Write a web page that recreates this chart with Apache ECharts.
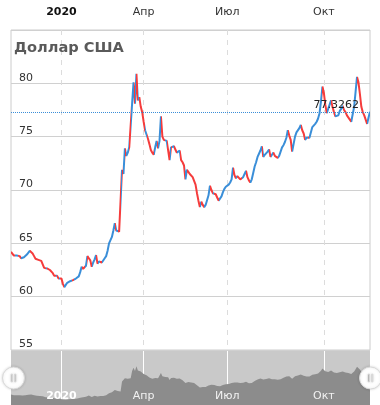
<!DOCTYPE html>
<html>
<head>
<meta charset="utf-8">
<script src="https://cdn.jsdelivr.net/npm/echarts@6/dist/echarts.min.js"></script>
<style>html,body{margin:0;padding:0;background:#fff}#c{width:380px;height:405px}</style>
</head>
<body>
<div id="c"></div>
<script>
// USD/RUB, one point per trading day
const values = [
  64.2, 64.05, 63.85, 63.75, 63.85, 63.95, 63.8, 63.6, 63.65, 63.7,
  63.8, 63.95, 64.1, 64.3, 64.15, 64.05, 63.8, 63.55, 63.5, 63.45,
  63.4, 63.35, 63.25, 62.7, 62.6, 62.65, 62.55, 62.5, 62.4, 62.2,
  61.95, 61.9, 61.95, 61.7, 61.75, 61.7, 61.2, 60.9, 61.1, 61.3,
  61.4, 61.45, 61.6, 61.55, 61.5, 61.7, 61.85, 61.9, 62.3, 62.8,
  62.6, 62.5, 62.9, 63.8, 63.6, 63.4, 62.8, 63.2, 63.5, 63.9,
  63.1, 63.3, 63.4, 63.2, 63.3, 63.6, 63.8, 64.3, 65.0, 65.3,
  65.6, 66.2, 66.9, 66.2, 66.3, 66.1, 66.0, 71.9, 71.5, 73.9,
  73.2, 73.5, 74.0, 73.9, 78.1, 80.1, 78.1, 80.9, 78.4, 78.7,
  77.8, 77.3, 76.4, 75.6, 75.7, 74.8, 74.3, 73.75, 73.5, 73.3,
  74.0, 74.6, 73.9, 74.6, 76.9, 75.0, 74.7, 74.6, 74.6, 74.5,
  72.8, 74.0, 73.9, 74.1, 73.8, 73.5, 73.6, 73.7, 72.8, 72.6,
  72.3, 71.0, 71.9, 71.7, 71.5, 71.4, 71.2, 71.1, 70.5, 69.7,
  69.0, 68.4, 68.9, 68.6, 68.4, 68.6, 68.7, 69.5, 70.4, 70.0,
  69.7, 69.8, 69.6, 69.3, 69.0, 69.1, 69.4, 69.8, 70.1, 70.3,
  70.4, 70.5, 70.7, 71.0, 72.1, 71.4, 71.1, 71.3, 71.2, 71.0,
  70.9, 71.2, 71.5, 71.8, 71.2, 70.9, 70.7, 71.0, 71.6, 72.2,
  72.6, 73.1, 73.4, 73.7, 74.1, 73.1, 73.3, 73.4, 73.6, 73.8,
  73.1, 73.3, 73.5, 73.2, 73.1, 73.0, 73.2, 73.3, 74.0, 74.2,
  74.5, 74.9, 75.6, 75.1, 74.7, 73.6, 74.3, 75.0, 75.4, 75.5,
  75.8, 76.1, 75.6, 75.3, 74.7, 74.9, 75.0, 74.9, 74.9, 75.9,
  76.0, 76.2, 76.4, 76.7, 77.2, 78.3, 79.7, 79.1, 78.0, 77.2,
  77.6, 78.0, 78.4, 77.8, 77.3, 76.9, 77.0, 77.0, 77.4, 77.6,
  77.9, 77.5, 77.3, 77.0, 76.9, 76.6, 76.4, 76.4, 77.8, 79.2,
  80.6, 80.1, 79.0, 77.8, 77.3, 77.0, 76.6, 76.2, 76.8, 77.3262
];
// trading-day ordinal categories
const categories = values.map((v, i) => String(i));
// first trading day of each quarter and its label
const tickIndex = [35, 92, 150, 217];
const tickLabels = ['2020', 'Апр', 'Июл', 'Окт'];
const yTicks = [55, 60, 65, 70, 75, 80];

const BLUE = '#3a8ed8';
const RED = '#f53c3c';
const lastValue = values[values.length - 1];

const pieces = [];
for (let i = 0; i < values.length - 1; i++) {
  const p = { gte: i, color: values[i + 1] >= values[i] ? BLUE : RED };
  if (i === values.length - 2) p.lte = i + 1; else p.lt = i + 1;
  pieces.push(p);
}
const isTick = (idx) => tickIndex.indexOf(idx) >= 0;
const labelFor = (value, idx) => {
  const k = tickIndex.indexOf(idx);
  if (k < 0) return '';
  return k === 0 ? '{y|' + tickLabels[k] + '}' : tickLabels[k];
};

const chart = echarts.init(document.getElementById('c'), null, { renderer: 'canvas' });
chart.setOption({
  animation: false,
  textStyle: { fontFamily: 'DejaVu Sans' },
  title: {
    text: 'Доллар США', left: 9, top: 36,
    textStyle: { fontSize: 14.6, fontWeight: 'bold', color: '#5a5a5a', fontFamily: 'DejaVu Sans' }
  },
  grid: [
    { left: 11, right: 10, top: 30, height: 320, show: true, borderColor: '#cccccc', borderWidth: 1, containLabel: false },
    { left: 11, right: 10, top: 351, height: 54, show: true, backgroundColor: '#c9c9c9', borderWidth: 0, containLabel: false }
  ],
  visualMap: {
    show: false, type: 'piecewise', seriesIndex: 0, dimension: 0, pieces: pieces
  },
  xAxis: [
    {
      type: 'category', gridIndex: 0, data: categories, boundaryGap: false, position: 'top',
      axisLine: { show: false }, axisTick: { show: false },
      axisLabel: {
        interval: (i) => isTick(i), formatter: labelFor, margin: 12,
        color: '#333', fontSize: 11,
        rich: { y: { fontWeight: 'bold', color: '#111', fontSize: 11 } }
      },
      splitLine: { show: true, interval: (i) => isTick(i), lineStyle: { color: '#dcdcdc', type: [5, 5] } }
    },
    {
      type: 'category', gridIndex: 1, data: categories, boundaryGap: false, position: 'bottom',
      axisLine: { show: false }, axisTick: { show: false }, axisLabel: { show: false },
      splitLine: { show: true, interval: (i) => isTick(i), lineStyle: { color: '#ffffff', width: 1 } }
    },
    {
      type: 'category', gridIndex: 1, data: categories, boundaryGap: false, position: 'bottom', z: 10,
      axisLine: { show: false }, axisTick: { show: false }, splitLine: { show: false },
      axisLabel: {
        inside: true, interval: (i) => isTick(i), formatter: labelFor, margin: 3,
        color: '#f2f2f2', fontSize: 11,
        rich: { y: { fontWeight: 'bold', color: '#ffffff', fontSize: 11 } }
      }
    }
  ],
  yAxis: [
    {
      type: 'value', gridIndex: 0, min: yTicks[0], max: 85, interval: 5,
      axisLine: { show: false }, axisTick: { show: false },
      axisLabel: { inside: true, margin: 8, verticalAlign: 'bottom', color: '#333', fontSize: 11, showMaxLabel: false },
      splitLine: { lineStyle: { color: '#d0d0d0' } }
    },
    {
      type: 'value', gridIndex: 1, min: 58, max: 90, show: false,
      splitLine: { show: false }
    }
  ],
  dataZoom: [{
    type: 'slider', xAxisIndex: [0, 1, 2], start: 0, end: 100,
    left: 11, right: 10, top: 351, height: 54,
    backgroundColor: 'rgba(0,0,0,0)', borderColor: 'rgba(0,0,0,0)', fillerColor: 'rgba(0,0,0,0)',
    showDataShadow: false, showDetail: false, brushSelect: false,
    moveHandleSize: 0, moveHandleStyle: { opacity: 0 },
    handleIcon: 'path://M10,0A10,10,0,1,1,-10,0A10,10,0,1,1,10,0Z M-2.2,-3.5L-2.2,3.5L-1,3.5L-1,-3.5Z M1,-3.5L1,3.5L2.2,3.5L2.2,-3.5Z',
    handleSize: 22,
    handleStyle: { color: '#ffffff', borderColor: '#d8d8d8', borderWidth: 1, shadowBlur: 3, shadowColor: 'rgba(0,0,0,0.15)' },
    emphasis: { handleStyle: { color: '#ffffff', borderColor: '#d8d8d8' } }
  }],
  series: [
    {
      type: 'line', xAxisIndex: 0, yAxisIndex: 0, data: values, symbol: 'none',
      lineStyle: { width: 2 },
      markLine: {
        silent: true, symbol: 'none',
        data: [{ yAxis: lastValue }],
        lineStyle: { color: BLUE, type: 'dotted', width: 1 },
        label: { position: 'insideEndTop', formatter: () => lastValue.toFixed(4), color: '#222', fontSize: 11, distance: [11, 1] }
      }
    },
    {
      type: 'line', xAxisIndex: 1, yAxisIndex: 1, data: values, symbol: 'none',
      lineStyle: { width: 0 }, areaStyle: { color: '#8c8c8c', opacity: 1 }, silent: true
    }
  ]
});
</script>
</body>
</html>
